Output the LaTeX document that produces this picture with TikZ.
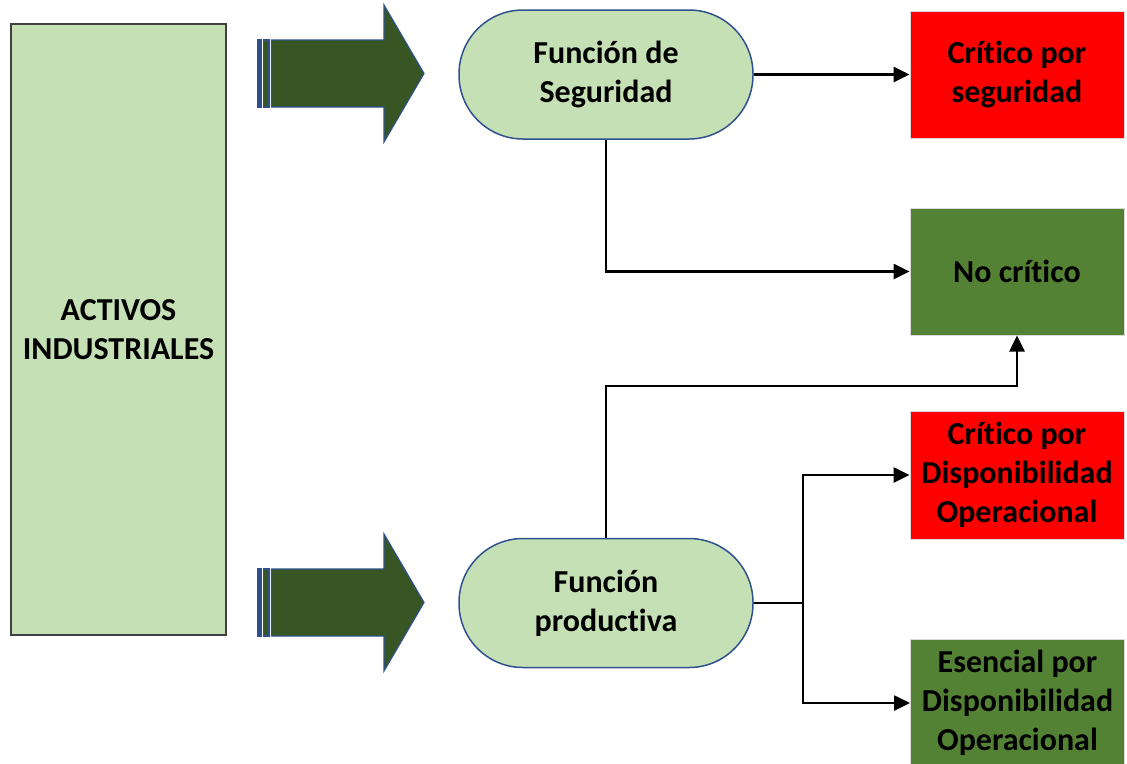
\documentclass[tikz,border=0pt]{standalone}
\usepackage{fontspec}
\setmainfont{Carlito}[RawFeature=-liga]
\usetikzlibrary{arrows.meta}
\definecolor{lightgreen}{HTML}{C5E0B4}
\definecolor{darkgreen}{HTML}{375623}
\definecolor{midgreen}{HTML}{548235}
\definecolor{outlineblue}{HTML}{2F528F}
\definecolor{critred}{HTML}{FF0000}
\tikzset{
  lbl/.style={font=\bfseries\fontsize{32}{39}\selectfont, align=center, text=black},
  assets/.style={lbl, rectangle, fill=lightgreen, draw=black!75, line width=1.2pt,
    minimum width=215pt, minimum height=611pt, inner sep=0pt},
  func/.style={lbl, rectangle, rounded corners=64pt, fill=lightgreen, draw=outlineblue,
    line width=1.5pt, minimum width=294pt, minimum height=129pt, inner sep=0pt},
  result/.style={lbl, rectangle, draw=black!15, line width=1pt,
    minimum width=214pt, minimum height=127pt, inner sep=0pt},
  crit/.style={result, fill=critred},
  okbox/.style={result, fill=midgreen},
  link/.style={line width=2.6pt, -{Triangle[length=16pt,width=15pt]}},
  plain/.style={line width=2.6pt},
  shaft/.style={fill=darkgreen, draw=outlineblue, line width=1.2pt, line join=miter},
  stripedarrow/.pic={
    \path[shaft] (258,40) rectangle (261,107);
    \path[shaft] (263.5,40) rectangle (269,107);
    \path[shaft] (271.5,40) -- (384,40) -- (384,5) -- (424,73.5)
      -- (384,142) -- (384,107) -- (271.5,107) -- cycle;
  }
}
\begin{document}
\begin{tikzpicture}[x=1pt, y=-1pt]
  \useasboundingbox (0,0) rectangle (1127,763);

  % left column
  \node[assets] (act) at (118.5,329.5) {ACTIVOS\\INDUSTRIALES};

  % block arrows feeding the two functions
  \pic at (0,0) {stripedarrow};
  \pic at (0,529) {stripedarrow};

  % functions
  \node[func] (seg) at (606,74.5) {Función de\\Seguridad};
  \node[func] (prod) at (606,603) {Función\\productiva};

  % classification results
  \node[crit]  (cs) at (1017,74.5) {Crítico por\\seguridad};
  \node[okbox] (nc) at (1017,271.5) {No crítico};
  \node[crit, minimum height=128pt]  (cd) at (1017,475) {Crítico por\\Disponibilidad\\Operacional};
  \node[okbox, minimum height=128pt] (ed) at (1017.5,703) {Esencial por\\Disponibilidad\\Operacional};

  % routing points
  \coordinate (up) at (0,386);
  \coordinate (split) at (803,603);

  % connectors
  \draw[link] (seg.east) -- (cs.west);
  \draw[link] (seg.south) |- (nc.west);
  \draw[link] (prod.north) -- (prod.north |- up) -- (nc.south |- up) -- (nc.south);
  \draw[plain] (prod.east) -- (split);
  \draw[link] (split) |- (cd.west);
  \draw[link] (split) |- (ed.west);
\end{tikzpicture}
\end{document}
